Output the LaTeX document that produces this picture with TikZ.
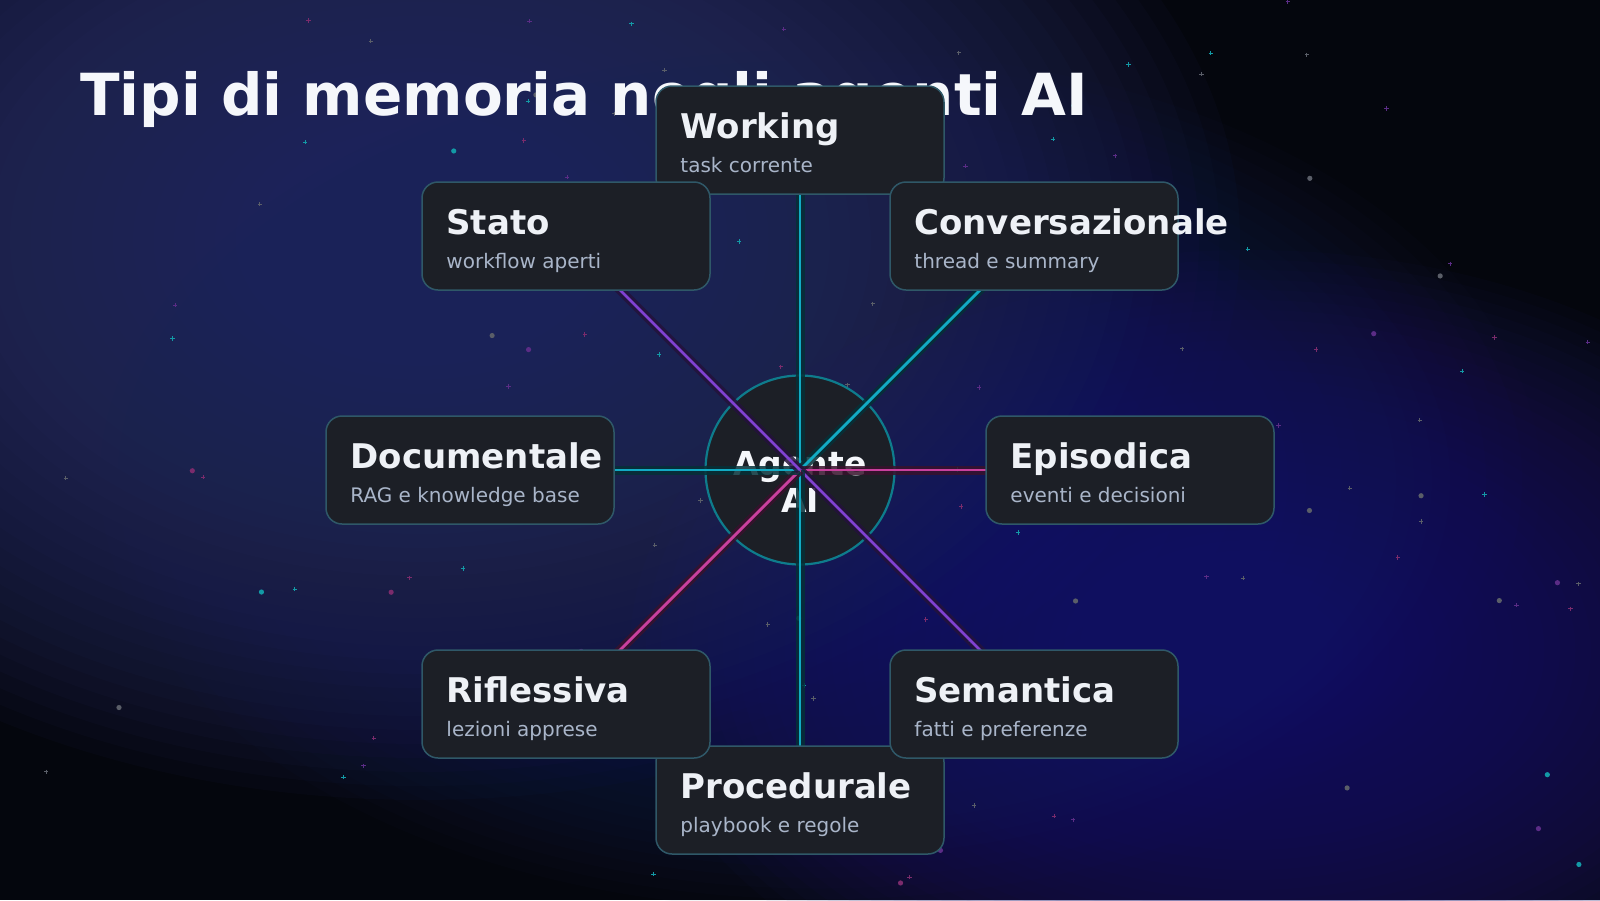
\documentclass[tikz,border=0pt]{standalone}
\usepackage{fontspec}
\setmainfont{DejaVu Sans}

\definecolor{bgbase}{HTML}{04060D}
\definecolor{glowblue}{HTML}{2A3068}
\definecolor{glowviolet}{HTML}{221E72}
\definecolor{glowdeep}{HTML}{1A2258}
\definecolor{cardfill}{HTML}{1C1F26}
\definecolor{cardline}{HTML}{2F5868}
\definecolor{titletext}{HTML}{F5F7FB}
\definecolor{cardtext}{HTML}{EEF1F6}
\definecolor{subtext}{HTML}{A9B5C9}
\definecolor{hubline}{HTML}{0E7C8C}
\definecolor{wirecyan}{HTML}{12ABC4}
\definecolor{wirepurple}{HTML}{8142D2}
\definecolor{wirepink}{HTML}{C9409E}
\definecolor{starteal}{HTML}{139AA6}
\definecolor{starpurple}{HTML}{5B2C86}
\definecolor{starpink}{HTML}{7B2B6C}
\definecolor{stargray}{HTML}{5A5E68}

\pgfdeclarelayer{bg}
\pgfdeclarelayer{wires}
\pgfsetlayers{bg,wires,main}

\tikzset{
  card/.style={rectangle, rounded corners=16, minimum width=288, minimum height=108,
    fill=cardfill, draw=cardline, line width=1.5, inner sep=0},
  cardtitle/.style={anchor=base west, inner sep=0, text=cardtext,
    font=\fontsize{34}{39}\selectfont\bfseries},
  cardsub/.style={anchor=base west, inner sep=0, text=subtext,
    font=\fontsize{20}{24}\selectfont},
  wire/.style={draw=#1, line width=2.8,
    preaction={draw=#1!28!black, line width=9, draw opacity=.85}},
}

\begin{document}
\begin{tikzpicture}[x=1pt, y=-1pt]
  \useasboundingbox (0,0) rectangle (1600,900);
  \begin{pgfonlayer}{bg}
    % sky
    \begin{scope}
      \clip (0,0) rectangle (1600,900);
      \fill[bgbase] (0,0) rectangle (1600,900);
      \foreach \k in {0,...,39}{
        \fill[glowblue, opacity=.065] (420,240) ellipse [x radius={820*(1-\k/40)}, y radius={560*(1-\k/40)}];
      }
      \foreach \k in {0,...,39}{
        \fill[glowdeep, opacity=.05] (820,480) ellipse [x radius={720*(1-\k/40)}, y radius={430*(1-\k/40)}];
      }
      \foreach \k in {0,...,39}{
        \fill[glowviolet, opacity=.05] (1250,650) ellipse [x radius={620*(1-\k/40)}, y radius={400*(1-\k/40)}];
      }
      % stars
      \pgfmathsetseed{4217}
      \foreach \i in {1,...,95}{
        \pgfmathsetmacro{\sx}{rnd*1600}
        \pgfmathsetmacro{\sy}{rnd*900}
        \pgfmathtruncatemacro{\sk}{rnd*4}
        \ifcase\sk \def\scol{starteal}\or\def\scol{starpurple}\or\def\scol{starpink}\else\def\scol{stargray}\fi
        \draw[\scol, line width=1] (\sx-2.2,\sy) -- (\sx+2.2,\sy) (\sx,\sy-2.2) -- (\sx,\sy+2.2);
      }
      \foreach \i in {1,...,30}{
        \pgfmathsetmacro{\sx}{rnd*1600}
        \pgfmathsetmacro{\sy}{rnd*900}
        \pgfmathtruncatemacro{\sk}{rnd*4}
        \ifcase\sk \def\scol{starteal}\or\def\scol{starpurple}\or\def\scol{starpink}\else\def\scol{stargray}\fi
        \fill[\scol] (\sx,\sy) circle (2.6);
      }
    \end{scope}
    % hub
    \node[circle, minimum size=189, fill=cardfill, draw=hubline, line width=2.2] (hub) at (800,470) {};
    \node[align=center, inner sep=0, text=titletext, font=\fontsize{33}{37}\selectfont\bfseries,
      yshift=-12] (hub-label) at (hub.center) {Agente\\AI};
  \end{pgfonlayer}

  % title
  \node[anchor=base west, inner sep=0, text=titletext, font=\fontsize{58}{66}\selectfont\bfseries]
    (title) at (80,115) {Tipi di memoria negli agenti AI};

  % cards
  \node[card] (working) at (800,140) {};
  \node[cardtitle] (working-t) at ([shift={(25,53)}]working.north west) {Working};
  \node[cardsub] (working-s) at ([shift={(25,87)}]working.north west) {task corrente};

  \node[card] (procedurale) at (800,800) {};
  \node[cardtitle] (procedurale-t) at ([shift={(25,53)}]procedurale.north west) {Procedurale};
  \node[cardsub] (procedurale-s) at ([shift={(25,87)}]procedurale.north west) {playbook e regole};

  \node[card] (stato) at (566,236) {};
  \node[cardtitle] (stato-t) at ([shift={(25,53)}]stato.north west) {Stato};
  \node[cardsub] (stato-s) at ([shift={(25,87)}]stato.north west) {workflow aperti};

  \node[card] (conversazionale) at (1034,236) {};
  \node[cardtitle] (conversazionale-t) at ([shift={(25,53)}]conversazionale.north west) {Conversazionale};
  \node[cardsub] (conversazionale-s) at ([shift={(25,87)}]conversazionale.north west) {thread e summary};

  \node[card] (documentale) at (470,470) {};
  \node[cardtitle] (documentale-t) at ([shift={(25,53)}]documentale.north west) {Documentale};
  \node[cardsub] (documentale-s) at ([shift={(25,87)}]documentale.north west) {RAG e knowledge base};

  \node[card] (episodica) at (1130,470) {};
  \node[cardtitle] (episodica-t) at ([shift={(25,53)}]episodica.north west) {Episodica};
  \node[cardsub] (episodica-s) at ([shift={(25,87)}]episodica.north west) {eventi e decisioni};

  \node[card] (riflessiva) at (566,704) {};
  \node[cardtitle] (riflessiva-t) at ([shift={(25,53)}]riflessiva.north west) {Riflessiva};
  \node[cardsub] (riflessiva-s) at ([shift={(25,87)}]riflessiva.north west) {lezioni apprese};

  \node[card] (semantica) at (1034,704) {};
  \node[cardtitle] (semantica-t) at ([shift={(25,53)}]semantica.north west) {Semantica};
  \node[cardsub] (semantica-s) at ([shift={(25,87)}]semantica.north west) {fatti e preferenze};

  % Relations
  \begin{pgfonlayer}{wires}
    \draw[wire=wirecyan] (hub.center) -- (working.center);
    \draw[wire=wirecyan] (hub.center) -- (conversazionale.center);
    \draw[wire=wirepink] (hub.center) -- (episodica.center);
    \draw[wire=wirepurple] (hub.center) -- (semantica.center);
    \draw[wire=wirecyan] (hub.center) -- (procedurale.center);
    \draw[wire=wirepink] (hub.center) -- (riflessiva.center);
    \draw[wire=wirecyan] (hub.center) -- (documentale.center);
    \draw[wire=wirepurple] (hub.center) -- (stato.center);
  \end{pgfonlayer}
\end{tikzpicture}
\end{document}
